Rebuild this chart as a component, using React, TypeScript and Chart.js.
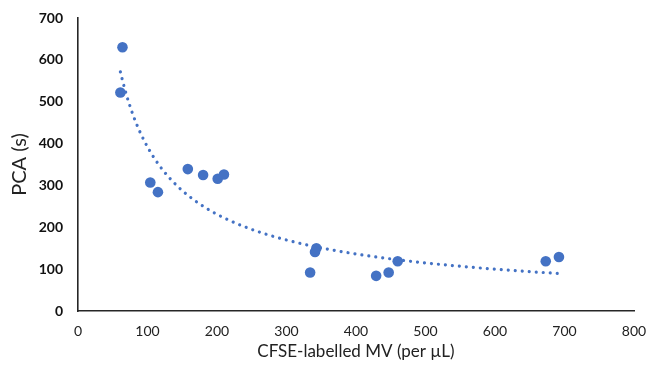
import React, { useEffect, useRef } from "react";
import { Chart, registerables } from "chart.js";

Chart.register(...registerables);

const mvCounts = [64, 61, 104, 115, 158, 180, 201, 210, 343, 341, 334, 429, 447, 460, 673, 692];
const pcaSeconds = [630, 522, 307, 284, 339, 325, 316, 326, 150, 141, 92, 84, 92, 119, 119, 129];
const xTicks = [0, 100, 200, 300, 400, 500, 600, 700, 800];
const yTicks = [0, 100, 200, 300, 400, 500, 600, 700];

const BLUE = "#4472C4";
const FONT = "Lato, 'Open Sans', sans-serif";

function powerFit(xs: number[], ys: number[]) {
  const n = xs.length;
  let sx = 0, sy = 0, sxx = 0, sxy = 0;
  for (let i = 0; i < n; i++) {
    const lx = Math.log(xs[i]);
    const ly = Math.log(ys[i]);
    sx += lx; sy += ly; sxx += lx * lx; sxy += lx * ly;
  }
  const b = (n * sxy - sx * sy) / (n * sxx - sx * sx);
  const a = Math.exp((sy - b * sx) / n);
  return { a, b };
}

export default function App() {
  const ref = useRef<HTMLCanvasElement | null>(null);
  useEffect(() => {
    document.body.style.margin = "0";
    const { a, b } = powerFit(mvCounts, pcaSeconds);
    const xmin = Math.min(...mvCounts);
    const xmax = Math.max(...mvCounts);
    const trend: { x: number; y: number }[] = [];
    const steps = 200;
    for (let i = 0; i <= steps; i++) {
      const x = xmin + ((xmax - xmin) * i) / steps;
      trend.push({ x, y: a * Math.pow(x, b) });
    }
    const chart = new Chart(ref.current!, {
      type: "scatter",
      data: {
        datasets: [
          {
            type: "line",
            data: trend,
            borderColor: BLUE,
            borderWidth: 3.2,
            borderDash: [0.01, 7],
            borderCapStyle: "round",
            pointRadius: 0,
            fill: false,
            tension: 0,
            order: 2,
          } as any,
          {
            data: mvCounts.map((x, i) => ({ x, y: pcaSeconds[i] })),
            backgroundColor: BLUE,
            borderColor: BLUE,
            pointRadius: 5.3,
            borderWidth: 0,
            order: 1,
          },
        ],
      },
      options: {
        animation: false,
        responsive: false,
        layout: { padding: { left: 0, right: 14, top: 18, bottom: 0 } },
        plugins: { legend: { display: false }, tooltip: { enabled: false } },
        scales: {
          x: {
            type: "linear",
            min: 0,
            max: 800,
            afterBuildTicks: (s: any) => { s.ticks = xTicks.map((v) => ({ value: v })); },
            afterFit: (s: any) => { s.height = 62; s.paddingLeft = 0; s.paddingRight = 0; },
            grid: { display: false, drawTicks: false },
            border: { display: true, color: "#262626", width: 1.6 },
            ticks: { color: "#222", font: { family: FONT, size: 14 }, padding: 12 },
            title: {
              display: true,
              text: "CFSE-labelled MV (per µL)",
              color: "#222",
              font: { family: FONT, size: 17 },
              padding: { top: 0, bottom: 11 },
            },
          },
          y: {
            type: "linear",
            min: 0,
            max: 700,
            afterBuildTicks: (s: any) => { s.ticks = yTicks.map((v) => ({ value: v })); },
            afterFit: (s: any) => { s.width = 78; s.paddingTop = 0; s.paddingBottom = 0; },
            grid: { display: false, drawTicks: false },
            border: { display: true, color: "#262626", width: 1.6 },
            ticks: { color: "#111", font: { family: FONT, size: 14, weight: "bold" }, padding: 15 },
            title: {
              display: true,
              text: "PCA (s)",
              color: "#222",
              font: { family: FONT, size: 20 },
              padding: { top: 8, bottom: 0 },
            },
          },
        },
      },
    });
    return () => chart.destroy();
  }, []);
  return (
    <div style={{ width: 648, height: 373, background: "#fff" }}>
      <canvas ref={ref} width={648} height={373} />
    </div>
  );
}
